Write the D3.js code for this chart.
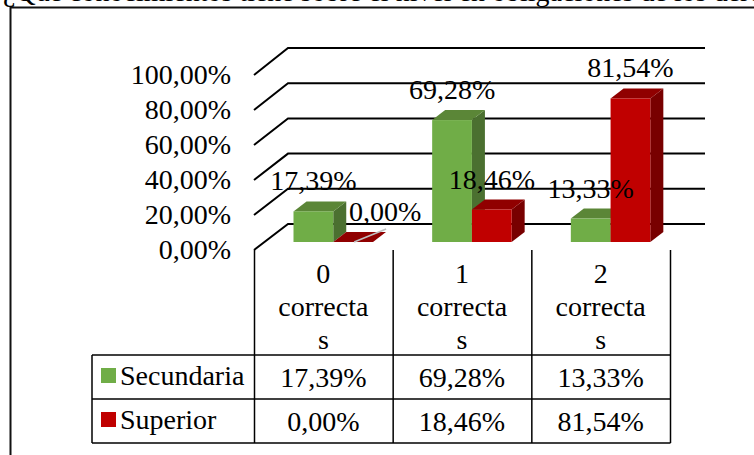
<!DOCTYPE html>
<html>
<head>
<meta charset="utf-8">
<script src="https://cdn.jsdelivr.net/npm/d3@7"></script>
<style>
  html, body { margin: 0; padding: 0; background: #fff; overflow: hidden; }
  text { font-family: "Liberation Serif", serif; fill: #000; }
</style>
</head>
<body>
<svg id="chart"></svg>
<script>
const titleText = "¿Qué conocimientos tiene sobre el nivel en obligaciones de los derechos";
const categories = ["0", "1", "2"];
const categoryLines = ["correcta", "s"];
const seriesNames = ["Secundaria", "Superior"];
const secundaria = [17.39, 69.28, 13.33];
const superior = [0.00, 18.46, 81.54];
const yTicks = [0, 20, 40, 60, 80, 100];

const width = 754;
const height = 455;
const FS = 28;
const depthX = 13, depthY = 10;   // bar depth
const wallX = 34, wallY = 26;     // floor depth

const fmt = v => v.toFixed(2).replace('.', ',') + '%';
const colors = {
  Secundaria: {front: '#70ad47', top: '#5b8637', side: '#4b7030'},
  Superior: {front: '#c00000', top: '#900000', side: '#780000'}
};
const values = {Secundaria: secundaria, Superior: superior};

const svg = d3.select('#chart').attr('width', width).attr('height', height);

// cells of the data table under the plot
const x = d3.scaleBand().domain(categories).range([254, 670]);
const xBar = d3.scaleBand().domain(seriesNames).range([39.5, 119]);
const yBack = d3.scaleLinear().domain([0, 100]).range([224, 48]);
const yWall = d3.scaleLinear().domain([0, 100]).range([250, 75]);
const yBar = d3.scaleLinear().domain([0, 100]).range([242, 66]);

// title, cut off by the top of the picture
svg.append('text')
  .attr('x', 3).attr('y', 0.5)
  .style('font-size', FS + 'px')
  .text(titleText);

// outer frame
svg.append('path')
  .attr('d', `M10.5,${height}V7.5H${width}`)
  .attr('fill', 'none')
  .attr('stroke', '#111')
  .attr('stroke-width', 2);

// grid lines and wall
yTicks.forEach(t => {
  svg.append('path')
    .attr('d', `M254,${yWall(t)}L${254 + wallX},${yBack(t)}H705`)
    .attr('fill', 'none')
    .attr('stroke', '#000')
    .attr('stroke-width', 2);
  svg.append('text')
    .attr('x', 231)
    .attr('y', yWall(t) + 9)
    .attr('text-anchor', 'end')
    .style('font-size', FS + 'px')
    .text(fmt(t));
});

// bars
categories.forEach((c, i) => {
  seriesNames.forEach(s => {
    const v = values[s][i];
    const x0 = x(c) + xBar(s);
    const x1 = x0 + xBar.bandwidth();
    const y0 = yBar(0);
    const y1 = yBar(v);
    const col = colors[s];
    svg.append('path').attr('fill', col.side)
      .attr('d', `M${x1},${y1}l${depthX},${-depthY}V${y0 - depthY}L${x1},${y0}Z`);
    svg.append('path').attr('fill', col.top)
      .attr('d', `M${x0},${y1}l${depthX},${-depthY}H${x1 + depthX}L${x1},${y1}Z`);
    svg.append('rect').attr('fill', col.front)
      .attr('x', x0).attr('y', y1)
      .attr('width', x1 - x0).attr('height', y0 - y1);
  });
});

// data labels
categories.forEach((c, i) => {
  seriesNames.forEach(s => {
    const v = values[s][i];
    const cx = x(c) + xBar(s) + xBar.bandwidth() / 2;
    if (v === 0) {
      // leader line to the moved label
      svg.append('line')
        .attr('x1', cx + 1).attr('y1', yBar(0))
        .attr('x2', cx + 33).attr('y2', yBar(0) - 13)
        .attr('stroke', '#bfbfbf')
        .attr('stroke-width', 1.5);
    }
    svg.append('text')
      .attr('x', v === 0 ? cx + 32 : cx)
      .attr('y', yBar(v) - 21)
      .attr('text-anchor', 'middle')
      .style('font-size', FS + 'px')
      .text(fmt(v));
  });
});

// data table
const rowY = [355, 399, 443];
const lineColor = '#000';
x.domain().concat(['end']).forEach((c, i) => {
  const vx = 254.5 + i * x.step();
  svg.append('line')
    .attr('x1', vx).attr('x2', vx)
    .attr('y1', 250).attr('y2', rowY[2])
    .attr('stroke', lineColor).attr('stroke-width', 1.5);
});
rowY.forEach(y => {
  svg.append('line')
    .attr('x1', 92).attr('x2', 670.5)
    .attr('y1', y).attr('y2', y)
    .attr('stroke', lineColor).attr('stroke-width', 1.5);
});
svg.append('line')
  .attr('x1', 92).attr('x2', 92)
  .attr('y1', rowY[0]).attr('y2', rowY[2])
  .attr('stroke', lineColor).attr('stroke-width', 1.5);

categories.forEach((c, i) => {
  const cx = x(c) + x.bandwidth() / 2;
  [c].concat(categoryLines).forEach((t, j) => {
    svg.append('text')
      .attr('x', cx)
      .attr('y', 283 + j * 33)
      .attr('text-anchor', 'middle')
      .style('font-size', FS + 'px')
      .text(t);
  });
  seriesNames.forEach((s, k) => {
    svg.append('text')
      .attr('x', cx)
      .attr('y', rowY[k] + 32)
      .attr('text-anchor', 'middle')
      .style('font-size', FS + 'px')
      .text(fmt(values[s][i]));
  });
});

seriesNames.forEach((s, k) => {
  svg.append('rect')
    .attr('x', 101).attr('y', rowY[k] + 13)
    .attr('width', 15).attr('height', 15)
    .attr('fill', colors[s].front);
  svg.append('text')
    .attr('x', 120).attr('y', rowY[k] + 30)
    .style('font-size', FS + 'px')
    .text(s);
});
</script>
</body>
</html>
